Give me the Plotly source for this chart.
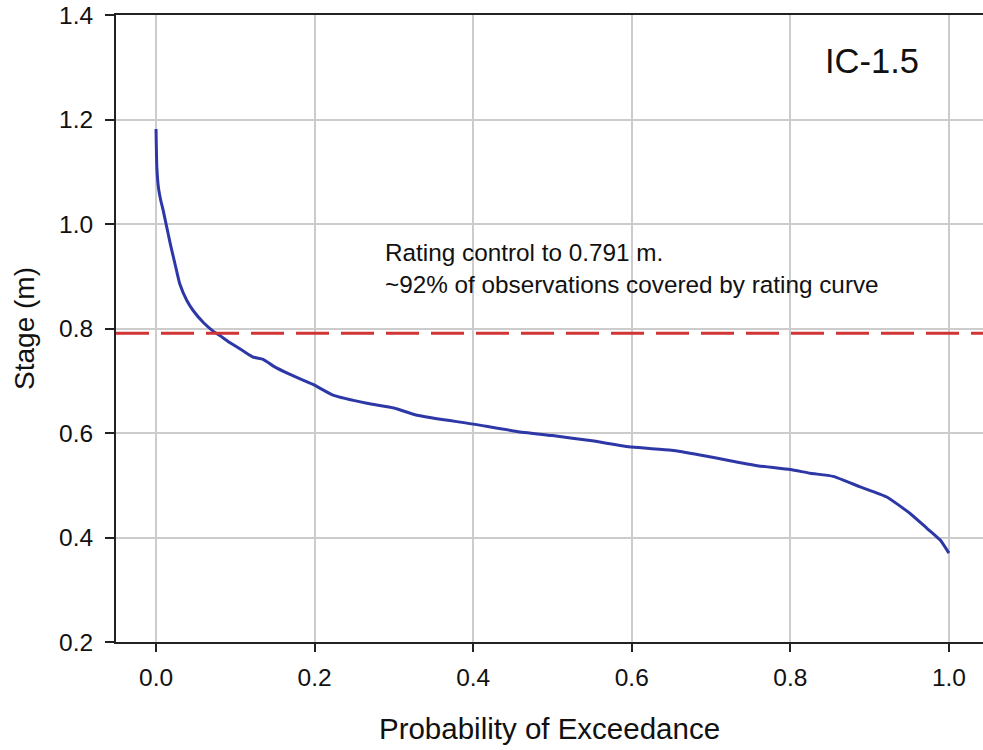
import plotly.graph_objects as go

# Flow-duration style stage curve for gauge IC-1.5
exceedance = [0.000, 0.001, 0.003, 0.006, 0.009, 0.0135, 0.018, 0.024, 0.030, 0.039,
              0.047, 0.060, 0.072, 0.081, 0.093, 0.110, 0.123, 0.135, 0.148, 0.169,
              0.198, 0.224, 0.266, 0.300, 0.329, 0.400, 0.455, 0.500, 0.550, 0.600,
              0.650, 0.686, 0.724, 0.760, 0.800, 0.825, 0.854, 0.888, 0.921, 0.951,
              0.972, 0.989, 1.000]
stage_m = [1.182, 1.109, 1.070, 1.045, 1.026, 0.994, 0.962, 0.923, 0.885, 0.853,
           0.834, 0.811, 0.795, 0.786, 0.773, 0.757, 0.745, 0.741, 0.728, 0.712,
           0.693, 0.672, 0.657, 0.648, 0.634, 0.617, 0.603, 0.595, 0.585, 0.573,
           0.567, 0.558, 0.547, 0.537, 0.530, 0.523, 0.517, 0.497, 0.478, 0.446,
           0.418, 0.395, 0.370]

rating_limit = 0.791
site_label = "IC-1.5"
note_lines = ["Rating control to 0.791 m.",
              "~92% of observations covered by rating curve"]

x_ticks = [0.0, 0.2, 0.4, 0.6, 0.8, 1.0]
y_ticks = [0.2, 0.4, 0.6, 0.8, 1.0, 1.2, 1.4]

FONT = "Liberation Sans, Arial, sans-serif"
AXIS_COLOR = "#222222"
GRID_COLOR = "#cccccc"
TEXT_COLOR = "#111111"

fig = go.Figure()

fig.add_trace(go.Scatter(
    x=exceedance, y=stage_m, mode="lines",
    line=dict(color="#2d38a6", width=3, shape="spline", smoothing=0.5),
    showlegend=False, hoverinfo="skip",
))

fig.add_hline(y=rating_limit, line=dict(color="#d03434", width=3, dash="33px,12px"))

fig.add_annotation(
    x=0.286, y=0.914, xref="x", yref="y",
    text="<br>".join(note_lines), showarrow=False,
    xanchor="left", yanchor="middle", align="left",
    font=dict(family=FONT, size=24.3, color=TEXT_COLOR),
)
fig.add_annotation(
    x=0.903, y=1.312, xref="x", yref="y",
    text=site_label, showarrow=False,
    xanchor="center", yanchor="middle",
    font=dict(family=FONT, size=34.5, color=TEXT_COLOR),
)

fig.update_layout(
    width=983, height=750,
    margin=dict(l=116, r=0, t=15, b=108),
    paper_bgcolor="white", plot_bgcolor="white",
    font=dict(family=FONT, color=TEXT_COLOR),
    xaxis=dict(
        range=[-0.0505, 1.043], tickvals=x_ticks, ticktext=[f"{v:.1f}" for v in x_ticks],
        showgrid=True, gridcolor=GRID_COLOR, gridwidth=1.5, zeroline=False,
        showline=True, linecolor=AXIS_COLOR, linewidth=2, mirror=True,
        ticks="outside", ticklen=8, tickwidth=2, tickcolor=AXIS_COLOR,
        ticklabelstandoff=5,
        tickfont=dict(size=24.5, family=FONT, color=TEXT_COLOR),
        title=dict(text="Probability of Exceedance", font=dict(size=29.5, family=FONT), standoff=28),
    ),
    yaxis=dict(
        range=[0.2, 1.4], tickvals=y_ticks, ticktext=[f"{v:.1f}" for v in y_ticks],
        showgrid=True, gridcolor=GRID_COLOR, gridwidth=1.5, zeroline=False,
        showline=True, linecolor=AXIS_COLOR, linewidth=2,
        ticks="outside", ticklen=9, tickwidth=2, tickcolor=AXIS_COLOR,
        ticklabelstandoff=7,
        tickfont=dict(size=24.5, family=FONT, color=TEXT_COLOR),
        title=dict(text="Stage (m)", font=dict(size=28, family=FONT), standoff=16),
    ),
)

fig.write_html("out.html")
